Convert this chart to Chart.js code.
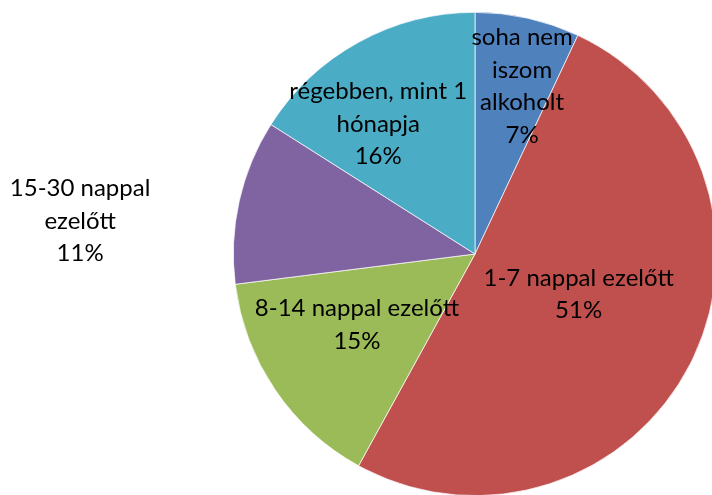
<!DOCTYPE html>
<html>
<head>
<meta charset="utf-8">
<script src="https://cdn.jsdelivr.net/npm/chart.js@4/dist/chart.umd.min.js"></script>
<style>
  html, body { margin: 0; padding: 0; background: #fff; overflow: hidden; }
  #wrap { position: absolute; left: 0; top: 0; width: 712px; height: 495px; overflow: hidden; }
</style>
</head>
<body>
<div id="wrap"><canvas id="canvas" width="950" height="510"></canvas></div>
<script>
// Adatok
const kategoriak = [
  ["soha nem", "iszom", "alkoholt"],
  ["1-7 nappal ezelőtt"],
  ["8-14 nappal ezelőtt"],
  ["15-30 nappal", "ezelőtt"],
  ["régebben, mint 1", "hónapja"]
];
const ertekek = [7, 51, 15, 11, 16];
const szinek = ["#4F81BD", "#C0504D", "#9BBB59", "#8064A2", "#4BACC6"];

// címkék elhelyezése: sugár-arány és szögeltolás (fok)
const cimkeSugar = [0.72, 0.46, 0.57, 1.64, 0.67];
const cimkeSzog = [3.1, -5.8, 3.2, -7.8, -7.9];

const cimkePlugin = {
  id: "cimkek",
  afterDraw(chart) {
    const ctx = chart.ctx;
    const meta = chart.getDatasetMeta(0);
    const osszeg = ertekek.reduce((a, b) => a + b, 0);
    ctx.save();
    ctx.font = "24px Lato";
    ctx.fillStyle = "#000";
    ctx.textAlign = "center";
    ctx.textBaseline = "middle";
    meta.data.forEach((arc, i) => {
      const p = arc.getProps(["x", "y", "startAngle", "endAngle", "outerRadius"], true);
      const szog = (p.startAngle + p.endAngle) / 2 + cimkeSzog[i] * Math.PI / 180;
      const r = p.outerRadius * cimkeSugar[i];
      const cx = p.x + Math.cos(szog) * r;
      const cy = p.y + Math.sin(szog) * r;
      const sorok = kategoriak[i].concat([Math.round(ertekek[i] / osszeg * 100) + "%"]);
      const lh = 32.5;
      const y0 = cy - (sorok.length - 1) * lh / 2;
      sorok.forEach((s, j) => ctx.fillText(s, cx, y0 + j * lh));
    });
    ctx.restore();
  }
};

new Chart(document.getElementById("canvas").getContext("2d"), {
  type: "pie",
  data: {
    labels: kategoriak.map(k => k.join(" ")),
    datasets: [{ data: ertekek, backgroundColor: szinek, borderColor: "#fff", borderWidth: 0.7 }]
  },
  options: {
    responsive: false,
    animation: false,
    layout: { padding: { left: 13, right: 13, top: 12, bottom: 14 } },
    plugins: { legend: { display: false }, tooltip: { enabled: false } }
  },
  plugins: [cimkePlugin]
});
</script>
</body>
</html>
